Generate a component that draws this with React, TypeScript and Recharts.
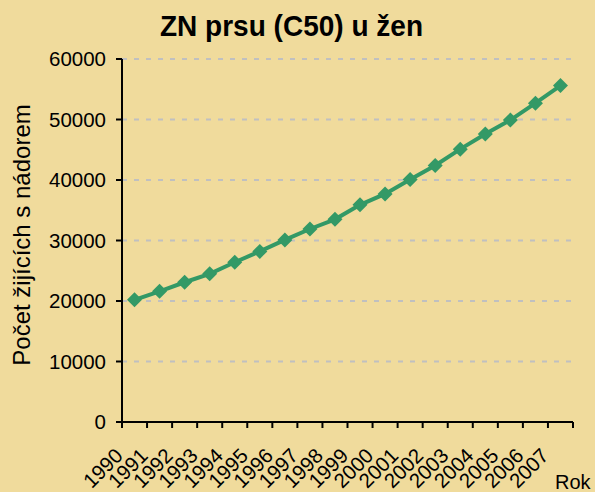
import React from "react";
import { LineChart, Line, XAxis, YAxis, CartesianGrid } from "recharts";

// Prevalence of breast cancer (C50) in women, Czech Republic
const years = [1990, 1991, 1992, 1993, 1994, 1995, 1996, 1997, 1998, 1999, 2000, 2001, 2002, 2003, 2004, 2005, 2006, 2007];
const survivors = [20200, 21600, 23100, 24500, 26400, 28200, 30100, 31900, 33500, 35900, 37700, 40100, 42400, 45100, 47600, 49900, 52700, 55600];
const yTicks = [0, 10000, 20000, 30000, 40000, 50000, 60000];

const title = "ZN prsu (C50) u žen";
const yTitle = "Počet žijících s nádorem";
const xTitle = "Rok";

const data = years.map((year, i) => ({ year, value: survivors[i] }));
// category boundaries, so the tick marks fall between the years
const xBoundaries = [...years.map((y) => y - 0.5), years[years.length - 1] + 0.5];

const FONT = "'Liberation Sans', Arial, sans-serif";
const BG = "#F0DB9C";
const GREEN = "#339966";

const Diamond = (props: any) => {
  const { cx, cy } = props;
  if (cx == null || cy == null) return null;
  const r = 7.5;
  return (
    <polygon
      points={`${cx},${cy - r} ${cx + r},${cy} ${cx},${cy + r} ${cx - r},${cy}`}
      fill={GREEN}
      stroke="none"
    />
  );
};

const YearTick = (props: any) => {
  const { x, y, payload } = props;
  const year = Math.round(payload.value + 0.5);
  if (year > years[years.length - 1]) return null;
  const ax = x + 2;
  const ay = y + 29;
  return (
    <text
      x={ax}
      y={ay}
      textAnchor="end"
      transform={`rotate(-45, ${ax}, ${ay})`}
      fontFamily={FONT}
      fontSize={20.5}
      fill="#000"
    >
      {year}
    </text>
  );
};

export default function App() {
  return (
    <div style={{ position: "absolute", left: 0, top: 0, width: 595, height: 492, background: BG }}>
      <LineChart
        width={595}
        height={492}
        data={data}
        margin={{ top: 59, right: 22, bottom: 0, left: 0 }}
      >
        <CartesianGrid
          horizontal
          vertical={false}
          stroke="#C0C0C0"
          strokeWidth={2}
          strokeDasharray="5 7"
        />
        <XAxis
          type="number"
          dataKey="year"
          domain={[xBoundaries[0], xBoundaries[xBoundaries.length - 1]]}
          ticks={xBoundaries}
          interval={0}
          height={70}
          axisLine={{ stroke: "#000", strokeWidth: 2 }}
          tickLine={{ stroke: "#000", strokeWidth: 2 }}
          tickSize={6}
          tickMargin={0}
          tick={<YearTick />}
        />
        <YAxis
          type="number"
          domain={[0, 60000]}
          ticks={yTicks}
          interval={0}
          width={122}
          axisLine={{ stroke: "#000", strokeWidth: 2 }}
          tickLine={{ stroke: "#000", strokeWidth: 2 }}
          tickSize={6}
          tickMargin={10}
          tick={{ fill: "#000", fontFamily: FONT, fontSize: 20.5 }}
        />
        <Line
          type="linear"
          dataKey="value"
          stroke={GREEN}
          strokeWidth={4}
          dot={<Diamond />}
          activeDot={false}
          isAnimationActive={false}
        />
      </LineChart>
      <svg
        width={595}
        height={492}
        style={{ position: "absolute", left: 0, top: 0, pointerEvents: "none" }}
      >
        <text
          x={160}
          y={36}
          textLength={263}
          lengthAdjust="spacingAndGlyphs"
          fontFamily={FONT}
          fontWeight="bold"
          fontSize={30}
          fill="#000"
        >
          {title}
        </text>
        <text
          x={30}
          y={235}
          textAnchor="middle"
          transform="rotate(-90, 30, 235)"
          fontFamily={FONT}
          fontSize={24}
          fill="#000"
        >
          {yTitle}
        </text>
        <text x={555} y={489} fontFamily={FONT} fontSize={20} fill="#000">
          {xTitle}
        </text>
      </svg>
    </div>
  );
}
